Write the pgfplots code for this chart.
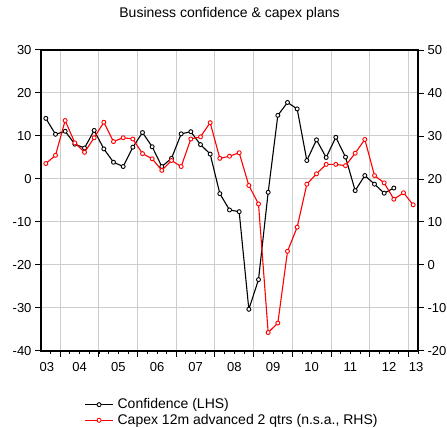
\documentclass[border=0pt]{standalone}
\usepackage{pgfplots}
\pgfplotsset{compat=1.18}
\usepackage{pgfplotstable}
\usepackage{fontspec}
\setmainfont{Liberation Sans}
\definecolor{gridgray}{HTML}{CDCDCD}

% quarterly, x = mid-quarter in years
\pgfplotstableread{
x conf
2003.625 14.1
2003.875 10.4
2004.125 11.1
2004.375 8.1
2004.625 7.2
2004.875 11.3
2005.125 7.0
2005.375 3.9
2005.625 2.9
2005.875 7.4
2006.125 10.8
2006.375 7.5
2006.625 2.9
2006.875 4.8
2007.125 10.5
2007.375 11.0
2007.625 8.0
2007.875 5.8
2008.125 -3.4
2008.375 -7.2
2008.625 -7.6
2008.875 -30.3
2009.125 -23.4
2009.375 -3.1
2009.625 14.8
2009.875 17.8
2010.125 16.3
2010.375 4.3
2010.625 9.1
2010.875 5.0
2011.125 9.7
2011.375 5.1
2011.625 -2.7
2011.875 0.8
2012.125 -1.2
2012.375 -3.3
2012.625 -2.1
}\conftable

\pgfplotstableread{
x capex
2003.625 23.6
2003.875 25.5
2004.125 33.6
2004.375 28.4
2004.625 26.2
2004.875 29.6
2005.125 33.2
2005.375 28.7
2005.625 29.6
2005.875 29.3
2006.125 25.9
2006.375 24.7
2006.625 22.0
2006.875 24.3
2007.125 22.9
2007.375 29.3
2007.625 29.8
2007.875 33.1
2008.125 24.8
2008.375 25.3
2008.625 26.1
2008.875 18.5
2009.125 14.2
2009.375 -15.7
2009.625 -13.5
2009.875 3.2
2010.125 8.8
2010.375 18.8
2010.625 21.2
2010.875 23.4
2011.125 23.4
2011.375 23.1
2011.625 26.0
2011.875 29.2
2012.125 20.8
2012.375 19.1
2012.625 15.3
2012.875 16.8
2013.125 14.0
}\capextable

\pgfplotsset{
  common/.style={
    scale only axis, width=377pt, height=301pt,
    at={(41pt,77pt)}, anchor=south west,
    xmin=2003.5, xmax=2013.25,
    tick align=outside,
    major tick length=6pt, minor tick length=3pt,
    tick style={black, line width=1pt},
    axis line style={line width=1.4pt},
    ticklabel style={font=\fontsize{13}{15}\selectfont},
  },
  mk/.style={line width=1.1pt, mark=*, mark size=2pt,
    mark options={fill=white, line width=0.9pt}},
}

\begin{document}
\begin{tikzpicture}
\path[use as bounding box] (0,0) rectangle (447pt,428pt);
\begin{axis}[
  common,
  ymin=-40, ymax=30,
  ytick={-40,-30,-20,-10,0,10,20,30},
  yticklabels={-40,-30,-20,-10,0,10,20,30},
  ytick pos=left, xtick pos=bottom,
  xtick={2004,2005,...,2013},
  xticklabels={},
  minor xtick={2003.75,2004,...,2013.25},
  extra x ticks={2003.65,2004.5,2005.5,2006.5,2007.5,2008.5,2009.5,2010.5,2011.5,2012.5,2013.2},
  extra x tick labels={03,04,05,06,07,08,09,10,11,12,13},
  extra x tick style={major tick length=0pt, grid=none,
    xticklabel style={anchor=base, yshift=-20.7pt}},
  grid=major,
  major grid style={gridgray, line width=1pt},
  title={Business confidence \& capex plans},
  title style={font=\fontsize{14}{16}\selectfont, at={(0.5,1)}, anchor=base, yshift=26.7pt},
]
\addplot[black, mk] table[x=x, y=conf] {\conftable};
\end{axis}
\begin{axis}[
  common,
  axis x line=none,
  axis y line*=right,
  ymin=-20, ymax=50,
  ytick={-20,-10,0,10,20,30,40,50},
  yticklabels={-20,-10,0,10,20,30,40,50},
  legend style={at={(0.107,-0.145)}, anchor=north west, draw=none, fill=none,
    font=\fontsize{14}{16}\selectfont, row sep=0pt,
    nodes={inner xsep=4pt}},
  legend cell align=left,
  legend image code/.code={\draw[mark repeat=2, mark phase=2] plot coordinates {(0pt,0pt) (14pt,0pt) (28pt,0pt)};},
]
\addlegendimage{black, mk}
\addlegendentry{Confidence (LHS)}
\addplot[red, mk] table[x=x, y=capex] {\capextable};
\addlegendentry{Capex 12m advanced 2 qtrs (n.s.a., RHS)}
\end{axis}
\end{tikzpicture}
\end{document}
